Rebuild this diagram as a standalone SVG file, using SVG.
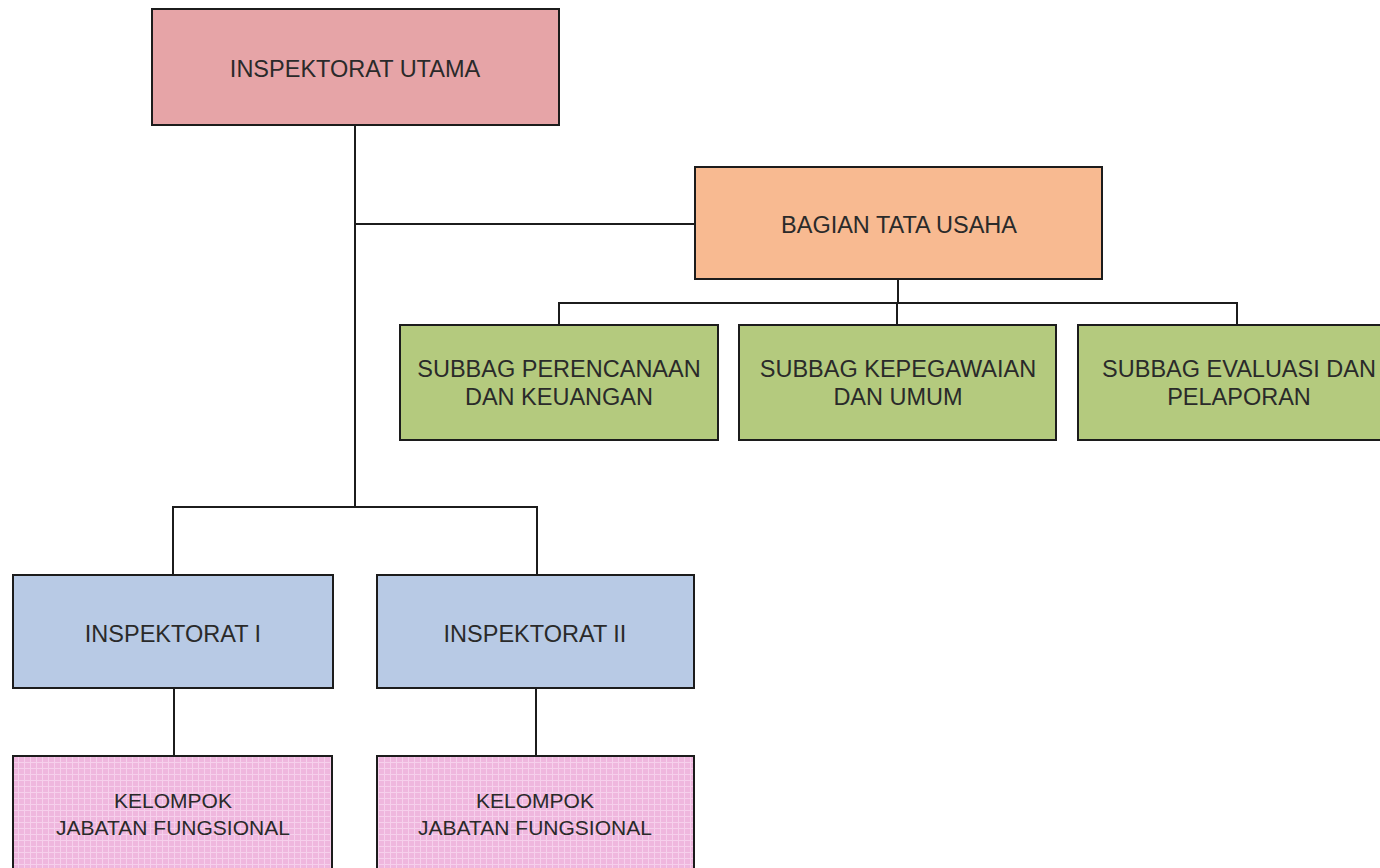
<svg xmlns="http://www.w3.org/2000/svg" width="1380" height="868" viewBox="0 0 1380 868">
  <style>
    .box { stroke: #1c1c1c; stroke-width: 2; }
    .head { fill: #e6a4a7; }
    .admin { fill: #f8ba91; }
    .sub { fill: #b4ca7e; }
    .insp { fill: #b8cae5; }
    .group { fill: url(#grid); }
    .lbl { font-family: "Liberation Sans", Arial, sans-serif; font-size: 23.5px; fill: #2a2a2a; text-anchor: middle; }
    .lbl-sm { font-size: 21px; }
    .link { fill: none; stroke: #1c1c1c; stroke-width: 2; }
  </style>
  <defs>
    <!-- fine checked texture for the functional-group boxes -->
    <pattern id="grid" width="6" height="6" patternUnits="userSpaceOnUse">
      <rect width="6" height="6" fill="#efb7de"/>
      <path d="M0 0.5H6M0.5 0V6" stroke="#f6d0ec" stroke-width="1"/>
    </pattern>
  </defs>

  <rect width="1380" height="868" fill="#ffffff"/>

  <!-- connectors -->
  <g id="connectors" class="link">
    <path d="M355 125V507"/>
    <path d="M355 224H695"/>
    <path d="M898 279V303"/>
    <path d="M559 325V303H1237V325"/>
    <path d="M897 303V325"/>
    <path d="M173 575V507H537V575"/>
    <path d="M174 688V756"/>
    <path d="M536 688V756"/>
  </g>

  <g id="inspektorat-utama">
    <rect class="box head" x="152" y="9" width="407" height="116"/>
    <text class="lbl" x="355" y="77">INSPEKTORAT UTAMA</text>
  </g>

  <g id="bagian-tata-usaha">
    <rect class="box admin" x="695" y="167" width="407" height="112"/>
    <text class="lbl" x="899" y="233">BAGIAN TATA USAHA</text>
  </g>

  <g id="subbag-perencanaan">
    <rect class="box sub" x="400" y="325" width="318" height="115"/>
    <text class="lbl" x="559" y="377">SUBBAG PERENCANAAN</text>
    <text class="lbl" x="559" y="405">DAN KEUANGAN</text>
  </g>

  <g id="subbag-kepegawaian">
    <rect class="box sub" x="739" y="325" width="317" height="115"/>
    <text class="lbl" x="898" y="377">SUBBAG KEPEGAWAIAN</text>
    <text class="lbl" x="898" y="405">DAN UMUM</text>
  </g>

  <g id="subbag-evaluasi">
    <rect class="box sub" x="1078" y="325" width="318" height="115"/>
    <text class="lbl" x="1239" y="377">SUBBAG EVALUASI DAN</text>
    <text class="lbl" x="1239" y="405">PELAPORAN</text>
  </g>

  <g id="inspektorat-1">
    <rect class="box insp" x="13" y="575" width="320" height="113"/>
    <text class="lbl" x="173" y="642">INSPEKTORAT I</text>
  </g>

  <g id="inspektorat-2">
    <rect class="box insp" x="377" y="575" width="317" height="113"/>
    <text class="lbl" x="535" y="642">INSPEKTORAT II</text>
  </g>

  <g id="kelompok-1">
    <rect class="box group" x="13" y="756" width="319" height="124"/>
    <text class="lbl lbl-sm" x="173" y="808">KELOMPOK</text>
    <text class="lbl lbl-sm" x="173" y="835">JABATAN FUNGSIONAL</text>
  </g>

  <g id="kelompok-2">
    <rect class="box group" x="377" y="756" width="317" height="124"/>
    <text class="lbl lbl-sm" x="535" y="808">KELOMPOK</text>
    <text class="lbl lbl-sm" x="535" y="835">JABATAN FUNGSIONAL</text>
  </g>
</svg>
